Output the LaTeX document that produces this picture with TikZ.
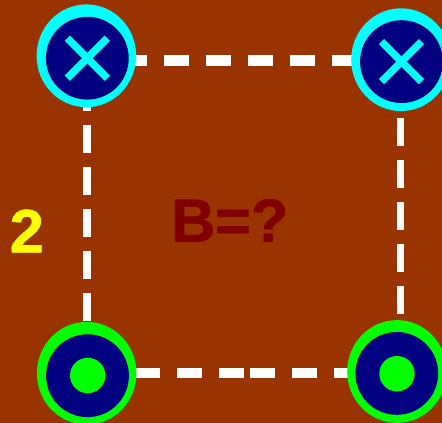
\documentclass[tikz,border=0pt]{standalone}
\usepackage{fontspec}
\setmainfont{Liberation Sans}
\newfontfamily\heavyfont[FakeBold=1.2]{Liberation Sans Bold}
\usetikzlibrary{shapes.geometric,backgrounds}
\definecolor{bgbrown}{HTML}{993300}
\definecolor{discnavy}{HTML}{000080}
\definecolor{labelred}{HTML}{800000}
\definecolor{ringcyan}{HTML}{00FFFF}
\definecolor{ringgreen}{HTML}{00FF00}
\definecolor{labelyellow}{HTML}{FFFF00}
\tikzset{
  ring/.style={ellipse,inner sep=0pt,minimum width=99.6pt,minimum height=102.8pt},
  disc/.style={circle,inner sep=0pt,minimum size=82.8pt,fill=discnavy},
  dot/.style={circle,inner sep=0pt,minimum size=35.4pt,fill=ringgreen},
  crossarm/.style={draw=ringcyan,line width=7.5pt},
  hlink/.style={draw=white,dash pattern=on 25pt off 17pt},
  vlink/.style={draw=white,dash pattern=on 28pt off 14pt},
  bigtext/.style={inner sep=0pt,anchor=base west,font=\fontsize{61}{68}\heavyfont}
}
\begin{document}
\begin{tikzpicture}[x=1pt,y=-1pt]
\useasboundingbox (0,0) rectangle (442,423);
\node[ring,fill=ringcyan] (tlo) at (86.4,55.8) {};
\node[disc] (tl) at (87.3,58.2) {};
\node[ring,fill=ringcyan] (tro) at (401,59.7) {};
\node[disc] (tr) at (401.5,61.6) {};
\node[ring,fill=ringgreen] (blo) at (86.7,373.3) {};
\node[disc] (bl) at (87.5,375.7) {};
\node[dot] (bld) at (87.7,375.5) {};
\node[ring,fill=ringgreen] (bro) at (397,371.5) {};
\node[disc] (br) at (396.8,373.4) {};
\node[dot] (brd) at (397,373.7) {};
\draw[crossarm] ([shift={(-20,-20)}]tl.center) -- ([shift={(20,20)}]tl.center);
\draw[crossarm] ([shift={(-20,20)}]tl.center) -- ([shift={(20,-20)}]tl.center);
\draw[crossarm] ([shift={(-20,-20)}]tr.center) -- ([shift={(20,20)}]tr.center);
\draw[crossarm] ([shift={(-20,20)}]tr.center) -- ([shift={(20,-20)}]tr.center);
\coordinate (m) at (247,373);
\node[bigtext,text=labelyellow] (two) at (9.6,252.3) {\selectfont 2};
\node[bigtext,text=labelred] (query) at (171,241.8) {\selectfont B=?};
\begin{pgfonlayer}{background}
\fill[bgbrown] (0,0) rectangle (442,423);
\draw[hlink,line width=11pt,dash phase=7.5pt] ([shift={(0,2.3)}]tl.center) -- ([shift={(0,-1.1)}]tr.center);
\draw[hlink,line width=10pt,dash phase=36.5pt] ([shift={(0,-2.7)}]bl.center) -- (m);
\draw[hlink,line width=10pt,dash phase=39pt] (m) -- ([shift={(0,-0.4)}]br.center);
\draw[vlink,line width=8pt,dash phase=17pt] ([shift={(-0.3,0)}]tl.center) -- ([shift={(-0.5,0)}]bl.center);
\draw[vlink,line width=7pt,dash phase=27.6pt] ([shift={(-1.5,0)}]tr.center) -- ([shift={(3.2,0)}]br.center);
\end{pgfonlayer}
\end{tikzpicture}
\end{document}
